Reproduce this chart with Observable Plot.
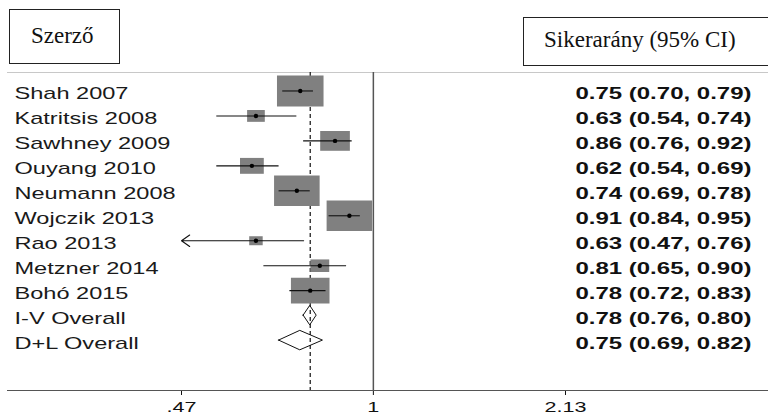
<!DOCTYPE html>
<html>
<head>
<meta charset="utf-8">
<script src="https://cdn.jsdelivr.net/npm/d3@7"></script>
<script src="https://cdn.jsdelivr.net/npm/@observablehq/plot@0.6"></script>
<style>
  html, body { margin: 0; padding: 0; background: #fff; overflow: hidden; }
  #wrap { position: relative; width: 768px; height: 415px; overflow: hidden; background: #fff; }
  #wrap svg { position: absolute; left: 0; top: 0; }
  .hbox { position: absolute; border: 1px solid #222; box-sizing: border-box; }
  .htext { position: absolute; font-family: "Liberation Serif", "Times New Roman", serif; font-size: 23px; line-height: 23px; color: #111; white-space: nowrap; }
</style>
</head>
<body>
<div id="wrap">
  <div class="hbox" style="left:9px;top:9px;width:111px;height:55px;"></div>
  <div class="htext" style="left:31px;top:24px;">Szerző</div>
  <div class="hbox" style="left:523px;top:17px;width:300px;height:49px;"></div>
  <div class="htext" style="left:544px;top:28px;">Sikerarány (95% CI)</div>
</div>
<script>
// ---- data ----
const studies = ["Shah 2007", "Katritsis 2008", "Sawhney 2009", "Ouyang 2010", "Neumann 2008",
                 "Wojczik 2013", "Rao 2013", "Metzner 2014", "Bohó 2015"];
const est = [0.75, 0.63, 0.86, 0.62, 0.74, 0.91, 0.63, 0.81, 0.78];
const lo  = [0.70, 0.54, 0.76, 0.54, 0.69, 0.84, 0.47, 0.65, 0.72];
const hi  = [0.79, 0.74, 0.92, 0.69, 0.78, 0.95, 0.76, 0.90, 0.83];
const weights = [21.4, 3.1, 8.7, 5.6, 20.5, 20.5, 1.8, 3.5, 14.7];

const pooledNames = ["I-V Overall", "D+L Overall"];
const pooledEst = [0.78, 0.75];
const pooledLo  = [0.76, 0.69];
const pooledHi  = [0.80, 0.82];

const tickValues = [0.47, 1, 2.13];
const tickLabels = [".47", "1", "2.13"];

// ---- layout constants ----
const yTop = 0.26, yBottom = 13;
const dHalf = 0.39;
const xMin = tickValues[0];
const stretch = 1.42;

// ---- derived tables ----
const rows = studies.map((name, i) => ({name, row: i + 1, est: est[i], lo: lo[i], hi: hi[i], w: weights[i]}));
const pooled = pooledNames.map((name, i) => ({name, row: studies.length + i + 1, est: pooledEst[i], lo: pooledLo[i], hi: pooledHi[i]}));
const all = [...rows, ...pooled];
const diamond = pooled.flatMap(d => [
  {name: d.name, x: d.lo, y1: d.row, y2: d.row},
  {name: d.name, x: d.est, y1: d.row - dHalf, y2: d.row + dHalf},
  {name: d.name, x: d.hi, y1: d.row, y2: d.row}
]);
const f2 = v => v.toFixed(2);

const boxSymbol = {
  draw(context, size) {
    const h = Math.sqrt(size / 1.5), w = 1.5 * h;
    context.rect(-w / 2, -h / 2, w, h);
  }
};

const chart = Plot.plot({
  width: 768,
  height: 415,
  marginLeft: 7,
  marginRight: 0,
  marginTop: 72,
  marginBottom: 25,
  style: {fontFamily: "'Liberation Sans', Arial, sans-serif", fontSize: "15.2px", color: "#111", background: "transparent"},
  x: {type: "log", domain: [tickValues[0], tickValues[2]], range: [181, 565], ticks: tickValues,
      tickFormat: d => tickLabels[tickValues.indexOf(d)], tickSize: 5, tickPadding: 6, label: null},
  y: {domain: [yTop, yBottom], range: [72, 390], axis: null},
  r: {type: "sqrt", domain: [0, 21.5], range: [0, 21.5]},
  marks: [
    Plot.ruleY([yTop], {stroke: "#c8c8c8", strokeWidth: 1.2}),
    Plot.ruleY([yBottom], {stroke: "#555", strokeWidth: 1.2}),
    Plot.areaY(diamond, {x: "x", y1: "y1", y2: "y2", z: "name", fill: "white", stroke: "#111", strokeWidth: 1, curve: "linear"}),
    Plot.ruleX([pooledEst[0]], {stroke: "#111", strokeDasharray: "4,3", strokeWidth: 1.2}),
    Plot.ruleX([1], {stroke: "#555", strokeWidth: 1.5}),
    Plot.dot(rows, {x: "est", y: "row", r: "w", symbol: boxSymbol, fill: "#808080", stroke: null}),
    Plot.ruleY(rows.filter(d => d.lo > xMin), {y: "row", x1: "lo", x2: "hi", stroke: "#111", strokeWidth: 1.1}),
    Plot.arrow(rows.filter(d => d.lo <= xMin), {x1: "hi", y1: "row", x2: "lo", y2: "row", stroke: "#111",
      strokeWidth: 1.1, headLength: 13.6, headAngle: 70, bend: 0}),
    Plot.dot(rows, {x: "est", y: "row", r: 2.2, fill: "#000"}),
    Plot.text(all, {y: "row", text: "name", frameAnchor: "left", textAnchor: "start", dx: 7, dy: 3,
      fontSize: 16.6, fill: "#1a1a1a"}),
    Plot.text(all, {y: "row", text: d => `${f2(d.est)} (${f2(d.lo)}, ${f2(d.hi)})`, frameAnchor: "right",
      textAnchor: "end", dx: -17, dy: 3, fontSize: 16.9, fontWeight: "bold", fill: "#111"})
  ]
});

document.getElementById("wrap").prepend(chart);

// horizontal stretch of the text, as in the reference picture
function stretchText(selector, s) {
  d3.select(chart).selectAll(selector).each(function () {
    const x = +this.getAttribute("x") || 0;
    if (x) this.setAttribute("x", x / s);
    const t = this.getAttribute("transform") || "";
    this.setAttribute("transform", `${t} scale(${s},1)`.trim());
  });
}
stretchText('g[aria-label="text"] text', stretch);
stretchText('g[aria-label^="x-axis"] text', stretch);
</script>
</body>
</html>
